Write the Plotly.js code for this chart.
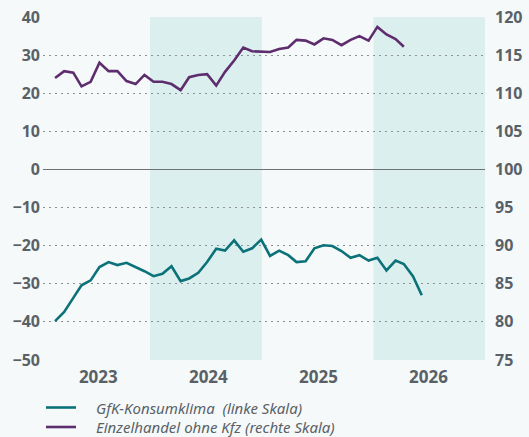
<!DOCTYPE html>
<html>
<head>
<meta charset="utf-8">
<script src="https://cdn.plot.ly/plotly-3.0.1.min.js"></script>
<style>
  html, body { margin: 0; padding: 0; background: #f5f9fa; }
  #chart { width: 529px; height: 437px; }
</style>
</head>
<body>
<div id="chart"></div>
<script>
// Monthly observations
const months = [
  "2022-12-01",
  "2023-01-01","2023-02-01","2023-03-01","2023-04-01","2023-05-01","2023-06-01",
  "2023-07-01","2023-08-01","2023-09-01","2023-10-01","2023-11-01","2023-12-01",
  "2024-01-01","2024-02-01","2024-03-01","2024-04-01","2024-05-01","2024-06-01",
  "2024-07-01","2024-08-01","2024-09-01","2024-10-01","2024-11-01","2024-12-01",
  "2025-01-01","2025-02-01","2025-03-01","2025-04-01","2025-05-01","2025-06-01",
  "2025-07-01","2025-08-01","2025-09-01","2025-10-01","2025-11-01","2025-12-01",
  "2026-01-01","2026-02-01","2026-03-01","2026-04-01","2026-05-01"
];

// GfK-Konsumklima (left scale)
const gfk = [
  -39.8,
  -37.4, -33.7, -30.4, -29.1, -25.6, -24.3,
  -25.1, -24.5, -25.6, -26.7, -28.0, -27.4,
  -25.4, -29.3, -28.6, -27.1, -24.3, -20.8,
  -21.3, -18.6, -21.6, -20.7, -18.4, -22.7,
  -21.3, -22.5, -24.3, -24.1, -20.7, -19.9,
  -20.1, -21.4, -23.2, -22.5, -23.9, -23.2,
  -26.5, -23.9, -24.8, -28.0, -33.0
];

// Einzelhandel ohne Kfz (right scale)
const retail = [
  112.0,
  112.9, 112.7, 110.9, 111.5, 114.0, 112.9,
  112.9, 111.6, 111.2, 112.4, 111.5, 111.5,
  111.2, 110.4, 112.1, 112.4, 112.5, 111.0,
  112.8, 114.3, 116.0, 115.5, 115.4, 115.4,
  115.8, 116.0, 117.0, 116.9, 116.4, 117.2,
  117.0, 116.3, 117.0, 117.5, 116.9, 118.7,
  117.7, 117.1, 116.1
];

const seriesNames = [
  "GfK-Konsumklima&nbsp; (linke Skala)",
  "Einzelhandel ohne Kfz (rechte Skala)"
];

const yearLabels = ["2023", "2024", "2025", "2026"];
const leftTicks = [-50, -40, -30, -20, -10, 0, 10, 20, 30, 40];
const rightTicks = [75, 80, 85, 90, 95, 100, 105, 110, 115, 120];

const teal = "#0b7279";
const purple = "#5e2d6e";
const labelGrey = "#596166";
const legendGrey = "#5a6166";
const bg = "#f5f9fa";
const shade = "#dcefef";
const colors = [teal, purple];

const traces = [
  {
    x: months.slice(0, gfk.length), y: gfk, name: seriesNames[0],
    type: "scatter", mode: "lines",
    xaxis: "x2", yaxis: "y",
    line: { color: teal, width: 2.6 }
  },
  {
    x: months.slice(0, retail.length), y: retail, name: seriesNames[1],
    type: "scatter", mode: "lines",
    xaxis: "x2", yaxis: "y2",
    line: { color: purple, width: 2.6 }
  }
];

// plot-area geometry (pixels)
const W = 529, H = 437;
const M = { l: 43, r: 44, t: 17, b: 77 };
const pw = W - M.l - M.r, ph = H - M.t - M.b;
const px2paperX = p => (p - M.l) / pw;
const py2paperY = p => (H - M.b - p) / ph;

// manual legend (below the chart)
const legendRowsY = [407.5, 427];
const legendShapes = [], legendAnnots = [];
seriesNames.forEach((name, i) => {
  legendShapes.push({
    type: "line", xref: "paper", yref: "paper",
    x0: px2paperX(46), x1: px2paperX(76),
    y0: py2paperY(legendRowsY[i]), y1: py2paperY(legendRowsY[i]),
    line: { color: colors[i], width: 2.6 }
  });
  legendAnnots.push({
    xref: "paper", yref: "paper",
    x: px2paperX(95), y: py2paperY(legendRowsY[i]),
    xanchor: "left", yanchor: "middle",
    text: name, showarrow: false, borderpad: 0,
    font: { family: "Noto Sans, sans-serif", size: 15, color: legendGrey, style: "italic" }
  });
});

const tickFont = { family: "Noto Sans, sans-serif", size: 16, color: labelGrey, weight: 700 };

const layout = {
  width: W, height: H,
  margin: { l: M.l, r: M.r, t: M.t, b: M.b, pad: 0 },
  paper_bgcolor: bg, plot_bgcolor: bg,
  showlegend: false,
  xaxis: {
    type: "date",
    range: ["2023-01-16", "2027-01-01"],
    tickmode: "array",
    tickvals: ["2023-07-16", "2024-07-10", "2025-07-05", "2026-06-30"],
    ticktext: yearLabels,
    tickangle: 0,
    showgrid: false, zeroline: false, showline: false, ticks: "",
    tickfont: { family: "Noto Sans, sans-serif", size: 17, color: labelGrey, weight: 700 },
    ticklabelstandoff: 5,
    automargin: false,
    fixedrange: true
  },
  xaxis2: {
    type: "date",
    overlaying: "x",
    anchor: "y",
    range: ["2022-10-21", "2026-12-02"],
    visible: false,
    fixedrange: true
  },
  yaxis: {
    range: [-50, 40],
    tickmode: "array", tickvals: leftTicks,
    showgrid: true, gridcolor: "#8c9194", gridwidth: 1, griddash: "2px,4px",
    zeroline: true, zerolinecolor: "#6b7174", zerolinewidth: 1.4,
    showline: false, ticks: "",
    tickfont: tickFont,
    ticklabelstandoff: 2,
    automargin: false,
    fixedrange: true
  },
  yaxis2: {
    range: [75, 120],
    overlaying: "y", side: "right", anchor: "x",
    tickmode: "array", tickvals: rightTicks,
    showgrid: false, zeroline: false, showline: false, ticks: "",
    tickfont: tickFont,
    ticklabelstandoff: 9,
    automargin: false,
    fixedrange: true
  },
  shapes: [
    { type: "rect", xref: "x", yref: "paper", x0: "2024-01-01", x1: "2025-01-01", y0: 0, y1: 1,
      fillcolor: shade, line: { width: 0 }, layer: "below" },
    { type: "rect", xref: "x", yref: "paper", x0: "2026-01-01", x1: "2027-01-01", y0: 0, y1: 1,
      fillcolor: shade, line: { width: 0 }, layer: "below" }
  ].concat(legendShapes),
  annotations: legendAnnots
};

Plotly.newPlot("chart", traces, layout, { displayModeBar: false, staticPlot: true });
</script>
</body>
</html>
